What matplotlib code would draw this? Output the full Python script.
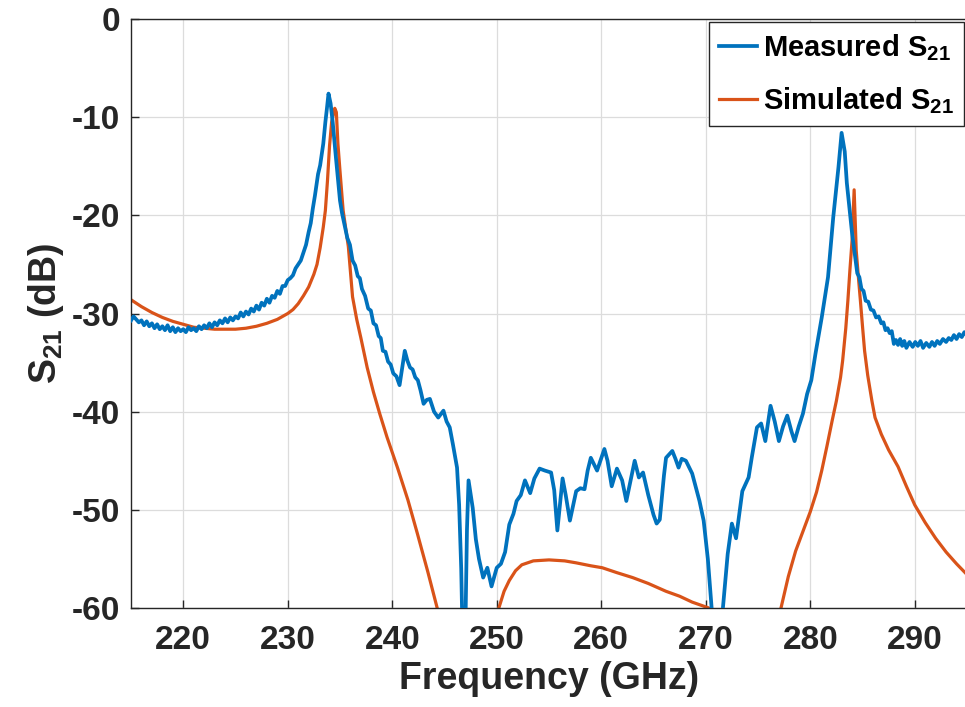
import matplotlib
matplotlib.use("Agg")
import matplotlib.pyplot as plt

plt.rcParams['font.family'] = ['Liberation Sans', 'DejaVu Sans']
plt.rcParams['font.weight'] = 'bold'
plt.rcParams['mathtext.fontset'] = 'custom'
plt.rcParams['mathtext.rm'] = 'Liberation Sans:bold'
plt.rcParams['mathtext.bf'] = 'Liberation Sans:bold'
plt.rcParams['mathtext.it'] = 'Liberation Sans:bold'
plt.rcParams['mathtext.default'] = 'bf'
plt.rcParams['axes.unicode_minus'] = False

# Measured S21 (GHz, dB)
meas_f = [215.0, 215.25, 215.5, 215.75, 216.0, 216.25, 216.5, 216.75, 217.0, 217.25,
          217.5, 217.75, 218.0, 218.25, 218.5, 218.75, 219.0, 219.25, 219.5, 219.75,
          220.0, 220.25, 220.5, 220.75, 221.0, 221.25, 221.5, 221.75, 222.0, 222.25,
          222.5, 222.75, 223.0, 223.25, 223.5, 223.75, 224.0, 224.25, 224.5, 224.75,
          225.0, 225.25, 225.5, 225.75, 226.0, 226.25, 226.5, 226.75, 227.0, 227.25,
          227.5, 227.75, 228.0, 228.25, 228.5, 228.75, 229.0, 229.25, 229.5, 229.75,
          230.0, 230.25, 230.5, 230.75, 231.0, 231.25, 231.5, 231.75, 232.0, 232.2,
          232.4, 232.6, 232.9, 233.1, 233.4, 233.6, 233.75, 233.9,
          234.1, 234.3, 234.6, 235.0, 235.2, 235.4, 235.7, 235.95, 236.2, 236.45, 236.7,
          236.9, 237.1, 237.4, 237.7, 237.95, 238.2, 238.45, 238.7, 238.9, 239.1, 239.35,
          239.6, 239.85, 240.1, 240.4, 240.7, 241.2, 241.45, 241.7, 241.95, 242.2, 242.45,
          242.7, 243.0, 243.3, 243.6, 244.0, 244.4, 244.9, 245.2, 245.5, 245.8, 246.2,
          246.4, 246.6, 246.75, 247.0, 247.15, 247.3, 247.7, 248.0, 248.3, 248.7, 249.1,
          249.5, 250.0, 250.4, 250.8, 251.2, 251.6, 251.9, 252.3, 252.7, 253.2, 253.6,
          254.1, 254.6, 255.2, 255.5, 255.8, 256.3, 256.6, 257.0, 257.6, 258.0,
          258.4, 258.7, 259.0, 259.6, 260.3, 260.6, 261.0, 261.5, 262.0, 262.4,
          263.2, 263.6, 264.0, 264.5, 265.0, 265.3, 265.6, 266.0, 266.2, 266.8,
          267.1, 267.4, 267.7, 268.1, 268.7, 269.0, 269.4, 269.8, 270.2, 270.6,
          271.0, 271.4, 271.6, 272.1, 272.5, 272.9, 273.5, 274.1, 274.4, 274.9,
          275.3, 275.7, 276.2, 276.6, 277.0, 277.4, 277.8, 278.2, 278.5, 278.9,
          279.3, 279.7, 280.1, 280.5, 281.1, 281.7, 282.2, 282.7, 283.0, 283.3,
          283.5, 284.0, 284.5, 284.7, 284.9, 285.1, 285.3, 285.55, 285.8, 286.05, 286.3,
          286.55, 286.8, 287.0, 287.2, 287.4, 287.6, 287.8, 288.0, 288.2, 288.4, 288.6,
          288.8, 289.0, 289.2, 289.5, 289.8, 290.05, 290.3, 290.55, 290.8, 291.1, 291.4,
          291.65, 291.9, 292.15, 292.4, 292.7, 293.0, 293.25, 293.5, 293.75, 294.0,
          294.25, 294.5, 294.75, 295.0]
meas_db = [-30.7, -30.3, -30.6, -30.9, -30.7, -31.2, -30.8, -31.3, -31.0, -31.5,
           -31.1, -31.6, -31.3, -31.7, -31.2, -31.8, -31.4, -31.9, -31.5, -31.8,
           -31.6, -31.9, -31.4, -31.7, -31.5, -31.8, -31.3, -31.6, -31.2, -31.5,
           -31.0, -31.4, -30.9, -31.2, -30.7, -31.0, -30.5, -30.9, -30.4, -30.7,
           -30.3, -30.5, -29.9, -30.3, -29.8, -30.1, -29.5, -29.8, -29.2, -29.6,
           -28.9, -29.2, -28.5, -28.9, -28.2, -28.4, -27.7, -28.0, -27.2, -27.2,
           -26.6, -26.4, -26.1, -25.4, -25.0, -24.6, -23.8, -23.0, -21.7, -20.8,
           -19.3, -18.0, -15.8, -14.9, -12.7, -10.5, -9.1, -7.6,
           -8.6, -10.5, -14.0, -18.5, -19.8, -20.8, -22.3, -23.0, -24.6, -25.1, -26.2,
           -26.4, -27.5, -28.2, -29.5, -29.7, -31.0, -31.2, -32.3, -32.5, -33.8, -33.9,
           -34.9, -35.2, -36.1, -36.4, -37.3, -33.8, -34.8, -35.5, -35.7, -36.5, -36.8,
           -37.8, -39.2, -38.8, -38.7, -40.0, -40.6, -39.9, -41.0, -41.6, -43.3, -45.7,
           -49.5, -56.0, -64.0, -62.0, -52.0, -47.0, -49.8, -53.0, -55.0, -56.9, -55.9,
           -57.8, -55.9, -55.5, -54.3, -51.5, -50.4, -49.1, -48.5, -47.0, -48.3, -46.8,
           -45.8, -46.0, -46.2, -48.0, -52.1, -46.8, -48.5, -51.1, -48.1, -47.8,
           -47.9, -46.0, -44.7, -46.0, -43.8, -45.0, -47.6, -45.8, -47.0, -49.1,
           -45.0, -46.7, -46.2, -48.5, -50.5, -51.4, -51.0, -46.5, -44.7, -44.0,
           -44.8, -45.7, -44.8, -45.0, -46.3, -47.5, -49.1, -51.1, -55.0, -60.5,
           -64.0, -63.0, -60.5, -54.5, -51.4, -52.9, -48.1, -46.7, -44.7, -41.6,
           -41.2, -43.0, -39.4, -41.0, -43.0, -41.5, -40.4, -42.0, -43.0, -41.5,
           -40.2, -38.2, -36.8, -34.1, -30.4, -26.3, -20.2, -15.1, -11.6, -13.5,
           -16.7, -21.8, -25.9, -26.3, -27.5, -27.7, -28.7, -28.8, -29.6, -29.7, -30.4,
           -30.3, -31.0, -30.9, -31.7, -31.5, -32.0, -31.8, -33.1, -32.7, -33.2, -32.6,
           -33.3, -32.8, -33.5, -32.9, -33.4, -32.9, -33.3, -32.8, -33.5, -33.0, -33.4,
           -32.9, -33.3, -32.8, -33.1, -32.6, -32.9, -32.5, -32.7, -32.2, -32.6,
           -32.1, -32.4, -31.9, -32.2]

# Simulated S21 (GHz, dB)
sim_f = [215.0, 216.0, 217.0, 218.0, 219.0, 220.0, 221.0, 222.0, 223.0, 224.0,
         225.0, 226.0, 227.0, 228.0, 229.0, 230.0, 230.5, 231.0, 231.5, 232.0,
         232.5, 232.8, 233.1, 233.4, 233.6, 233.8, 234.0, 234.2, 234.5, 234.65,
         234.8, 235.0, 235.3, 235.8, 236.2, 236.6, 237.0, 237.6, 238.2, 238.8,
         239.5, 240.5, 241.5, 242.4, 243.4, 244.3, 245.0, 246.5, 248.0, 249.5,
         250.2, 250.7, 251.2, 251.8, 252.4, 253.5, 255.0, 256.5, 257.6, 259.0,
         260.1, 261.5, 263.0, 264.5, 266.2, 267.5, 268.7, 270.3, 271.5, 273.0,
         275.0, 276.5, 277.2, 277.9, 278.6, 279.3, 280.0, 280.6, 281.1, 281.6,
         282.1, 282.5, 282.9, 283.1, 283.4, 283.6, 283.8, 284.0, 284.2, 284.4,
         284.6, 284.8, 285.0, 285.2, 285.5, 285.9, 286.2, 286.8, 287.5, 288.4,
         289.2, 290.0, 291.0, 292.0, 293.0, 294.0, 295.0]
sim_db = [-28.6, -29.3, -29.9, -30.4, -30.8, -31.1, -31.4, -31.5, -31.6, -31.6,
          -31.6, -31.5, -31.3, -31.0, -30.6, -30.0, -29.6, -29.0, -28.2, -27.3,
          -26.0, -25.0, -23.3, -21.2, -19.5, -16.5, -12.9, -10.5, -9.1, -9.5,
          -12.7, -15.5, -19.5, -23.2, -28.3, -30.6, -32.5, -35.5, -38.0, -40.2,
          -42.6, -45.7, -49.0, -52.4, -56.3, -60.0, -63.0, -70.0, -70.0, -64.0,
          -60.0, -58.3, -57.2, -56.2, -55.6, -55.2, -55.1, -55.2, -55.4, -55.7,
          -55.9, -56.4, -56.9, -57.5, -58.3, -58.8, -59.4, -60.0, -62.0, -66.0,
          -68.0, -63.0, -60.0, -56.8, -54.2, -52.2, -50.2, -48.2, -46.0, -43.5,
          -40.9, -38.9, -36.5, -34.8, -31.5, -28.7, -25.5, -22.6, -17.4, -23.6,
          -26.2, -28.7, -31.3, -33.8, -36.3, -38.9, -40.6, -42.3, -43.9, -45.6,
          -47.6, -49.5, -51.3, -52.9, -54.3, -55.5, -56.6]

x_ticks = [220, 230, 240, 250, 260, 270, 280, 290]
y_ticks = [0, -10, -20, -30, -40, -50, -60]

fig = plt.figure(figsize=(9.65, 7.07), dpi=100)
ax = fig.add_axes([131/965, 1 - 608/707, (967 - 131)/965, (608 - 19)/707])

ax.plot(meas_f, meas_db, color='#0072BD', lw=2.7, label=r'Measured S$_{21}$', zorder=3)
ax.plot(sim_f, sim_db, color='#D95319', lw=2.3, label=r'Simulated S$_{21}$', zorder=2)

ax.set_xlim(215, 295)
ax.set_ylim(-60, 0)
ax.set_xticks(x_ticks)
ax.set_yticks(y_ticks)
ax.set_xticklabels([str(t) for t in x_ticks])
ax.set_yticklabels([str(t) for t in y_ticks])
ax.tick_params(direction='in', length=6, width=1, colors='#262626', labelsize=24,
               labelcolor='#262626')
ax.tick_params(axis='x', pad=12)
ax.tick_params(axis='y', pad=8)
for lab in ax.get_xticklabels() + ax.get_yticklabels():
    lab.set_fontweight('bold')
for s in ax.spines.values():
    s.set_color('#262626')
    s.set_linewidth(1.0)
ax.grid(True, color='#dcdcdc', lw=0.9)
ax.set_axisbelow(True)

ax.set_xlabel('Frequency (GHz)', fontsize=27, fontweight='bold', color='#262626', labelpad=4)
ax.set_ylabel(r'S$_{21}$ (dB)', fontsize=27, fontweight='bold', color='#262626', labelpad=4)

leg = ax.legend(loc='upper right', fontsize=21, handlelength=1.3, handletextpad=0.2,
                borderaxespad=0.1, borderpad=0.35, labelspacing=0.75, fancybox=False,
                framealpha=1, edgecolor='#262626')
leg.get_frame().set_linewidth(1.0)
for t in leg.get_texts():
    t.set_fontweight('bold')
    t.set_color('black')

fig.savefig('out.png', dpi=100)
